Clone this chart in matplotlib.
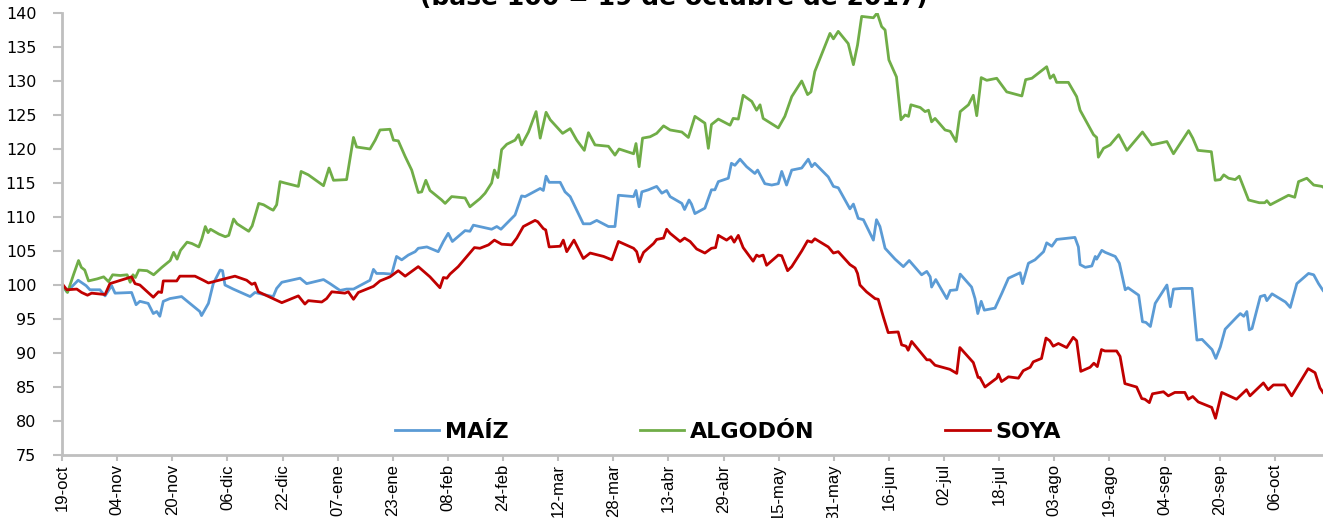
import matplotlib
matplotlib.use("Agg")
import matplotlib.pyplot as plt
import pandas as pd

# Índices de precios, base 100 = 19-oct-2017. Días contados desde esa fecha.
inicio = pd.Timestamp("2017-10-19")

maiz_dias = [0, 1.4, 4.7, 7, 8.1, 11, 12.5, 14.4, 15.4, 20.2, 21.5, 22.6, 25, 26.5, 27.5, 28.4, 29.4, 31.3,
             34.7, 40, 40.5, 42.5, 43.9, 45.9, 46.6, 47.3, 49.7, 54.6, 56, 59.4, 61.3, 62.3, 63.8, 69.1, 71,
             75.9, 77.8, 80.7, 82.6, 84.6, 89.4, 90.4, 91.3, 93.3, 95.7, 97.1, 98.6, 100.5, 102.5, 103.4,
             105.9, 109.2, 110.7, 112.1, 113.3, 117, 118.4, 119.4, 124.7, 126.2, 127.4, 131.5, 133.4, 134.4,
             138.8, 139.7, 140.5, 141.4, 144.6, 146, 147.5, 151.3, 153.3, 155.2, 158.6, 160.5, 161.5, 165.9,
             166.6, 167.5, 168.3, 170.2, 172.6, 174.1, 175.5, 176.5, 179.9, 180.7, 182, 182.7, 183.7, 186.6,
             188.5, 189.5, 190.5, 193.4, 194.3, 195.3, 196.8, 198.7, 201.1, 201.9, 204, 206, 207.9, 208.9,
             210.3, 211.8, 214.7, 216.6, 217.6, 218.5, 222.4, 223.9, 225.3, 228.7, 229.7, 231.1, 232.6, 235.5,
             236.4, 237.4, 238.9, 241.8, 244.2, 245.9, 249.5, 251, 252, 252.4, 253.6, 256.8, 257.8, 259.7,
             260.7, 264, 265, 265.8, 266.8, 267.7, 270.8, 272.8, 274.7, 278.1, 278.8, 280.5, 282.4, 284.9,
             285.8, 287.3, 288.7, 294, 295, 295.5, 297, 298.9, 299.9, 300.3, 301.8, 302.8, 305.7, 306.9,
             308.6, 309.4, 312.5, 313.6, 314.6, 315.9, 317.3, 320.7, 321.7, 322.6, 325, 328, 329.4, 330.9,
             333.8, 334.9, 336.2, 337.6, 341, 342, 343, 343.9, 344.6, 345.4, 347.8, 349.1, 349.7, 351.2,
             355.1, 356.5, 358.4, 361.8, 363.3, 364.7, 366]
maiz = [100, 99.0, 100.7, 99.9, 99.3, 99.3, 98.4, 99.9, 98.8, 98.9, 97.1, 97.6, 97.3, 95.8, 96.1, 95.4, 97.6,
        98.0, 98.3, 96.1, 95.5, 97.3, 100.2, 102.2, 102.1, 100.0, 99.4, 98.3, 98.9, 98.5, 98.3, 99.5, 100.4,
        101.0, 100.2, 100.8, 100.2, 99.2, 99.4, 99.4, 100.7, 102.3, 101.7, 101.7, 101.6, 104.2, 103.7, 104.4,
        104.9, 105.4, 105.6, 104.9, 106.4, 107.6, 106.4, 108.0, 107.9, 108.8, 108.2, 108.6, 108.2, 110.3,
        113.1, 113.0, 114.2, 113.9, 116.0, 115.1, 115.1, 113.7, 113.0, 109.0, 109.0, 109.5, 108.6, 108.6,
        113.2, 113.0, 113.9, 111.5, 113.7, 114.0, 114.5, 113.5, 113.9, 113.0, 112.0, 111.1, 112.5, 111.9,
        110.5, 111.3, 114.0, 114.0, 115.2, 115.7, 117.9, 117.6, 118.5, 117.4, 116.4, 116.9, 114.9, 114.7,
        114.9, 116.7, 114.7, 116.9, 117.2, 118.5, 117.4, 117.9, 115.9, 114.5, 114.3, 111.2, 111.9, 109.8,
        109.6, 106.6, 109.6, 108.6, 105.4, 103.8, 102.7, 103.6, 101.5, 102.0, 101.2, 99.7, 100.8, 98.0,
        99.2, 99.3, 101.6, 99.7, 98.0, 95.8, 97.6, 96.3, 96.6, 98.8, 101.0, 101.8, 100.2, 103.2, 103.7,
        104.9, 106.2, 105.7, 106.7, 107.0, 105.6, 103.0, 102.6, 102.8, 104.2, 103.8, 105.1, 104.8, 104.2,
        103.2, 99.3, 99.6, 98.5, 94.6, 94.5, 93.9, 97.3, 100.0, 96.8, 99.4, 99.5, 99.5, 91.9, 92.0, 90.5,
        89.2, 90.9, 93.5, 95.3, 95.8, 95.4, 96.1, 93.4, 93.6, 98.3, 98.5, 97.7, 98.7, 97.5, 96.7, 100.2,
        101.7, 101.5, 100.2, 99.2]

algodon_dias = [0, 1.6, 3.4, 4.8, 5.6, 6.6, 7.7, 10.2, 12.1, 13.5, 14.7, 16.9, 18.9, 19.8, 20.6, 21.3, 22.3,
                24.7, 26.6, 29, 31.4, 32.4, 33.4, 34.4, 36.3, 37.7, 39.7, 40.6, 41.6, 42.4, 43.1, 45.5, 47.4,
                48.4, 49.8, 50.8, 54.2, 55.2, 57.1, 58.5, 60.5, 61.3, 62.3, 63.3, 64.7, 68.6, 69.4, 71.5,
                75.9, 77.5, 78.8, 82.6, 84.6, 85.5, 89.4, 90.9, 92.3, 95.2, 96.2, 97.6, 99.6, 101.5, 103.4,
                104.4, 105.6, 106.8, 110.2, 111.2, 113.1, 117, 118.4, 121.3, 122.8, 124.7, 125.5, 126.5,
                127.6, 129.1, 131.5, 132.5, 133.4, 135.4, 137.6, 138.8, 140.5, 141.7, 145.3, 147.5, 149.4,
                151.6, 152.8, 154.7, 158.6, 160.5, 161.7, 165.9, 166.6, 167.5, 168.5, 170.7, 172.6, 174.6,
                176.5, 179.9, 181.8, 183.7, 186.6, 187.6, 188.5, 190.5, 193.9, 194.8, 196.3, 197.7, 200.2,
                201.6, 202.6, 203.5, 207.9, 209.8, 211.8, 214.7, 216.4, 217.4, 218.5, 222.9, 223.9, 225.3,
                228.2, 229.7, 230.9, 232.1, 235.5, 236.6, 237.9, 238.9, 240, 242.2, 243.5, 244.7, 245.7,
                246.4, 249.1, 250.5, 251.5, 252.4, 253.4, 256.3, 257.8, 259.5, 260.7, 263.1, 264.5, 265.5,
                266.8, 268.4, 271.3, 274.2, 278.6, 279.7, 281.5, 285.8, 286.8, 287.8, 288.7, 292.1, 294.5,
                295.5, 299.4, 300.3, 300.8, 302.3, 304.2, 306.7, 309.1, 313.6, 316.3, 320.7, 322.6, 327,
                328.2, 329.7, 333.6, 334.7, 336.2, 337.2, 338.6, 340.5, 341.7, 344.4, 347.5, 349.1, 349.7,
                350.7, 356, 357.8, 358.9, 361.3, 363.3, 365.7, 366]
algodon = [100.1, 98.9, 101.6, 103.6, 102.6, 102.2, 100.6, 100.9, 101.2, 100.5, 101.5, 101.4, 101.5, 100.4,
           101.5, 101.1, 102.2, 102.1, 101.5, 102.6, 103.6, 104.8, 103.8, 105.1, 106.3, 106.1, 105.6, 106.8,
           108.6, 107.7, 108.2, 107.5, 107.1, 107.3, 109.7, 109.0, 107.9, 108.7, 112.0, 111.8, 111.2, 111.0,
           111.8, 115.2, 115.0, 114.5, 116.7, 116.2, 114.6, 117.2, 115.4, 115.5, 121.7, 120.3, 120.0, 121.3,
           122.8, 122.9, 121.3, 121.2, 118.9, 116.9, 113.6, 113.7, 115.4, 113.9, 112.5, 112.0, 113.0, 112.8,
           111.5, 112.7, 113.5, 115.0, 116.9, 115.8, 119.9, 120.7, 121.3, 122.1, 120.6, 122.5, 125.5, 121.6,
           125.4, 124.3, 122.3, 123.0, 121.3, 119.8, 122.4, 120.6, 120.4, 119.1, 120.0, 119.3, 120.8, 117.4,
           121.6, 121.8, 122.3, 123.4, 122.8, 122.5, 121.7, 124.8, 123.8, 120.1, 123.6, 124.4, 123.5, 124.5,
           124.4, 127.9, 127.0, 125.7, 126.5, 124.5, 123.1, 124.8, 127.7, 130.0, 128.0, 128.4, 131.4, 137.0,
           136.2, 137.3, 135.5, 132.4, 135.3, 139.5, 139.3, 140.0, 138.0, 137.5, 133.1, 130.6, 124.3, 125.0,
           124.8, 126.5, 126.1, 125.5, 125.7, 124.0, 124.5, 122.8, 122.6, 121.1, 125.5, 126.5, 127.9, 124.9,
           130.5, 130.1, 130.4, 128.4, 127.8, 130.2, 130.4, 132.1, 130.4, 130.9, 129.8, 129.8, 127.7, 125.7,
           122.1, 121.7, 118.8, 120.1, 120.6, 122.1, 119.8, 122.5, 120.6, 121.1, 119.3, 122.7, 121.6, 119.8,
           119.6, 115.4, 115.5, 116.2, 115.7, 115.5, 116.0, 112.5, 112.1, 112.1, 112.4, 111.8, 113.2, 112.9,
           115.2, 115.7, 114.7, 114.5, 114.4]

soya_dias = [0, 1.4, 4.3, 5.7, 7.4, 8.6, 12.5, 13.9, 20.2, 21.2, 22.6, 26.5, 28, 28.9, 29.4, 33.3, 34.2, 38.6,
             41, 42.5, 50.2, 53.6, 55.1, 56, 57, 63.8, 68.6, 70.5, 71.5, 75.4, 76.8, 78.3, 82.1, 83.1, 84.6,
             86, 90.4, 92.3, 95.2, 97.6, 99.6, 103.4, 106.8, 109.7, 110.7, 111.7, 112.6, 115, 117, 119.7,
             121.3, 123.8, 125.5, 127.6, 130.5, 132, 133.9, 137.3, 138.1, 139.7, 140.4, 141.4, 144.6, 145.5,
             146.5, 148.6, 151.3, 153.3, 157.2, 159.1, 159.6, 161.5, 165.9, 166.8, 167.6, 168.8, 171.7,
             172.6, 174.6, 175.5, 176.5, 179.4, 180.7, 182.3, 184.2, 186.6, 188.5, 189.7, 190.5, 192.9,
             194.2, 195.1, 196.3, 197.7, 200.6, 201.6, 202.3, 203.5, 204.5, 207.9, 208.9, 210.6, 211.8,
             214.7, 216.4, 217.6, 218.5, 222.4, 223.9, 225.3, 228.7, 230.2, 230.9, 231.6, 233.5, 236,
             236.9, 238.4, 239.8, 242.7, 243.7, 245, 245.6, 246.6, 251, 251.9, 253.4, 257.7, 259.7, 260.6,
             264.5, 265.9, 266.4, 267.9, 271.3, 271.8, 272.7, 274.7, 277.6, 279, 281, 281.9, 284.3, 285.6,
             286.7, 287.7, 289.2, 291.6, 293.5, 294.5, 295.7, 298.4, 299.5, 300.5, 301.7, 302.7, 306.1,
             307.1, 308.5, 311.9, 313.4, 314.3, 315.6, 316.5, 319.7, 321.1, 323, 325.9, 326.9, 328.2,
             329.8, 333.7, 334.8, 336.6, 340.9, 343.8, 344.8, 348.7, 350.1, 351.6, 354.9, 356.9, 361.7,
             363.7, 365.1, 366]
soya = [100.2, 99.3, 99.4, 98.9, 98.5, 98.8, 98.6, 100.2, 101.2, 100.2, 100.0, 98.2, 99.0, 98.9, 100.6, 100.6,
        101.3, 101.3, 100.7, 100.3, 101.3, 100.7, 100.1, 100.3, 99.0, 97.4, 98.4, 97.2, 97.7, 97.5, 98.0, 99.0,
        98.8, 99.0, 97.9, 98.9, 99.8, 100.6, 101.2, 102.1, 101.3, 102.7, 101.2, 99.6, 101.1, 101.0, 101.6,
        102.7, 103.9, 105.5, 105.4, 105.9, 106.6, 106.0, 105.9, 106.9, 108.6, 109.5, 109.3, 108.3, 108.1,
        105.6, 105.7, 106.6, 104.9, 106.6, 103.9, 104.7, 104.2, 103.8, 103.7, 106.4, 105.4, 104.9, 103.4,
        104.8, 106.1, 106.7, 106.9, 108.2, 107.6, 106.4, 106.9, 106.4, 105.3, 104.7, 105.4, 105.5, 107.3,
        106.6, 107.1, 106.3, 107.3, 105.5, 103.5, 104.4, 104.2, 104.4, 102.9, 104.4, 104.3, 102.1, 102.7,
        105.0, 106.5, 106.3, 106.8, 105.6, 104.7, 104.9, 103.0, 102.5, 101.7, 100.0, 99.0, 98.0, 97.9, 95.3,
        93.0, 93.1, 91.2, 91.0, 90.4, 91.7, 89.0, 89.0, 88.2, 87.6, 87.0, 90.8, 88.6, 86.4, 86.4, 85.0,
        86.3, 86.9, 85.8, 86.5, 86.3, 87.4, 87.9, 88.7, 89.2, 92.2, 91.8, 91.0, 91.4, 90.8, 92.3, 91.8,
        87.3, 87.9, 88.5, 88.0, 90.5, 90.3, 90.3, 89.5, 85.5, 85.0, 83.3, 83.2, 82.7, 84.0, 84.3, 83.7,
        84.2, 84.2, 83.2, 83.6, 82.8, 82.0, 80.4, 84.2, 83.2, 84.6, 83.7, 85.6, 84.6, 85.3, 85.3, 83.7,
        87.7, 87.1, 84.9, 84.2]

series = [("MAÍZ", maiz_dias, maiz, "#5B9BD5"),
          ("ALGODÓN", algodon_dias, algodon, "#70AD47"),
          ("SOYA", soya_dias, soya, "#C00000")]

meses = {1: "ene", 2: "feb", 3: "mar", 4: "abr", 5: "may", 6: "jun",
         7: "jul", 8: "ago", 9: "sep", 10: "oct", 11: "nov", 12: "dic"}

W, H = 1323, 518
fig = plt.figure(figsize=(W / 100, H / 100), dpi=100)
ax = fig.add_axes([62 / W, 63 / H, 1261 / W, 442 / H])

for nombre, dias, valores, color in series:
    fechas = inicio + pd.to_timedelta(dias, unit="D")
    ax.plot(fechas, valores, color=color, lw=2.0, label=nombre, solid_joinstyle="round")

ax.set_ylim(75, 140)
ax.set_yticks(range(75, 141, 5))
ax.set_xlim(inicio, inicio + pd.Timedelta(days=366))

ticks = pd.date_range(inicio, periods=23, freq="16D")
ax.set_xticks(ticks)
ax.set_xticklabels([f"{d.day:02d}-{meses[d.month]}" for d in ticks], rotation=90,
                   family=["Liberation Sans", "DejaVu Sans"], fontsize=12)

gris = "#BFBFBF"
for lado in ["top", "right"]:
    ax.spines[lado].set_visible(False)
for lado in ["left", "bottom"]:
    ax.spines[lado].set_color(gris)
    ax.spines[lado].set_linewidth(2)
ax.tick_params(axis="y", length=6.5, width=1.5, color=gris, pad=12, labelsize=11.5)
ax.tick_params(axis="x", length=4.5, width=1.5, color=gris, pad=2)

ax.legend(loc="center left", bbox_to_anchor=((395 - 62) / 1261, (455 - 432) / 442), ncol=3,
          frameon=False, prop=dict(weight="bold", size=16), handlelength=2.0,
          handletextpad=0.25, columnspacing=5.9, borderpad=0, borderaxespad=0)

fig.text(0.509, 1 - 5 / H, "(base 100 = 19 de octubre de 2017)", ha="center", va="baseline",
         fontsize=18, fontweight="bold")

fig.savefig("out.png", dpi=100)
